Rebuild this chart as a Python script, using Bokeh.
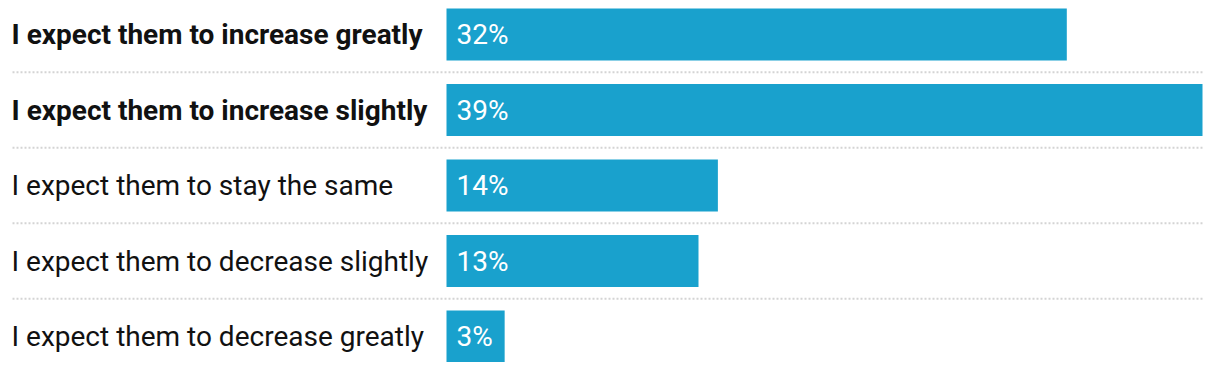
from bokeh.plotting import figure
from bokeh.models import ColumnDataSource, Range1d
from bokeh.embed import file_html
from bokeh.resources import INLINE
from bokeh.core.properties import value

categories = [
    "I expect them to increase greatly",
    "I expect them to increase slightly",
    "I expect them to stay the same",
    "I expect them to decrease slightly",
    "I expect them to decrease greatly",
]
values = [32, 39, 14, 13, 3]
value_labels = ["32%", "39%", "14%", "13%", "3%"]
bold_rows = [0, 1]

# layout (pixels inside the figure)
W, H = 1204, 362
bar_left_px = 446        # where 0% sits
max_px = 1202            # where the largest value ends
row_px = 75.5
first_center_px = 34
bar_h_px = 52
label_left_px = 11

ppu = (max_px - bar_left_px) / max(values)
x_start = -bar_left_px / ppu
x_end = x_start + W / ppu
y_top = -first_center_px / row_px
y_bottom = y_top + H / row_px

idx = list(range(len(categories)))
src = ColumnDataSource(dict(
    y=idx,
    v=values,
    cat=categories,
    lab=value_labels,
    style=["bold" if i in bold_rows else "normal" for i in idx],
))

p = figure(width=W, height=H, output_backend="svg", toolbar_location=None,
           x_range=Range1d(x_start, x_end), y_range=Range1d(y_bottom, y_top),
           min_border=0, outline_line_color=None)
p.axis.visible = False
p.grid.visible = False
p.background_fill_color = "white"

p.hbar(y="y", left=0, right="v", height=bar_h_px / row_px, source=src,
       fill_color="#19a1cd", line_color=None)

sep = ColumnDataSource(dict(y=[i + 0.5 for i in idx[:-1]]))
p.segment(x0=x_start + (label_left_px + 1) / ppu, x1=max(values), y0="y", y1="y",
          source=sep, line_color="#d4d4d4", line_width=2, line_dash="2 2")

p.text(x=0, y="y", text="cat", source=src, x_offset=label_left_px - bar_left_px,
       text_font=value("Roboto"), text_font_size="28px", text_font_style="style",
       text_align="left", text_baseline="middle", text_color="#111111")

p.text(x=0, y="y", text="lab", source=src, x_offset=10,
       text_font=value("Roboto"), text_font_size="28px",
       text_align="left", text_baseline="middle", text_color="white")

open("out.html", "w").write(file_html(p, INLINE))
